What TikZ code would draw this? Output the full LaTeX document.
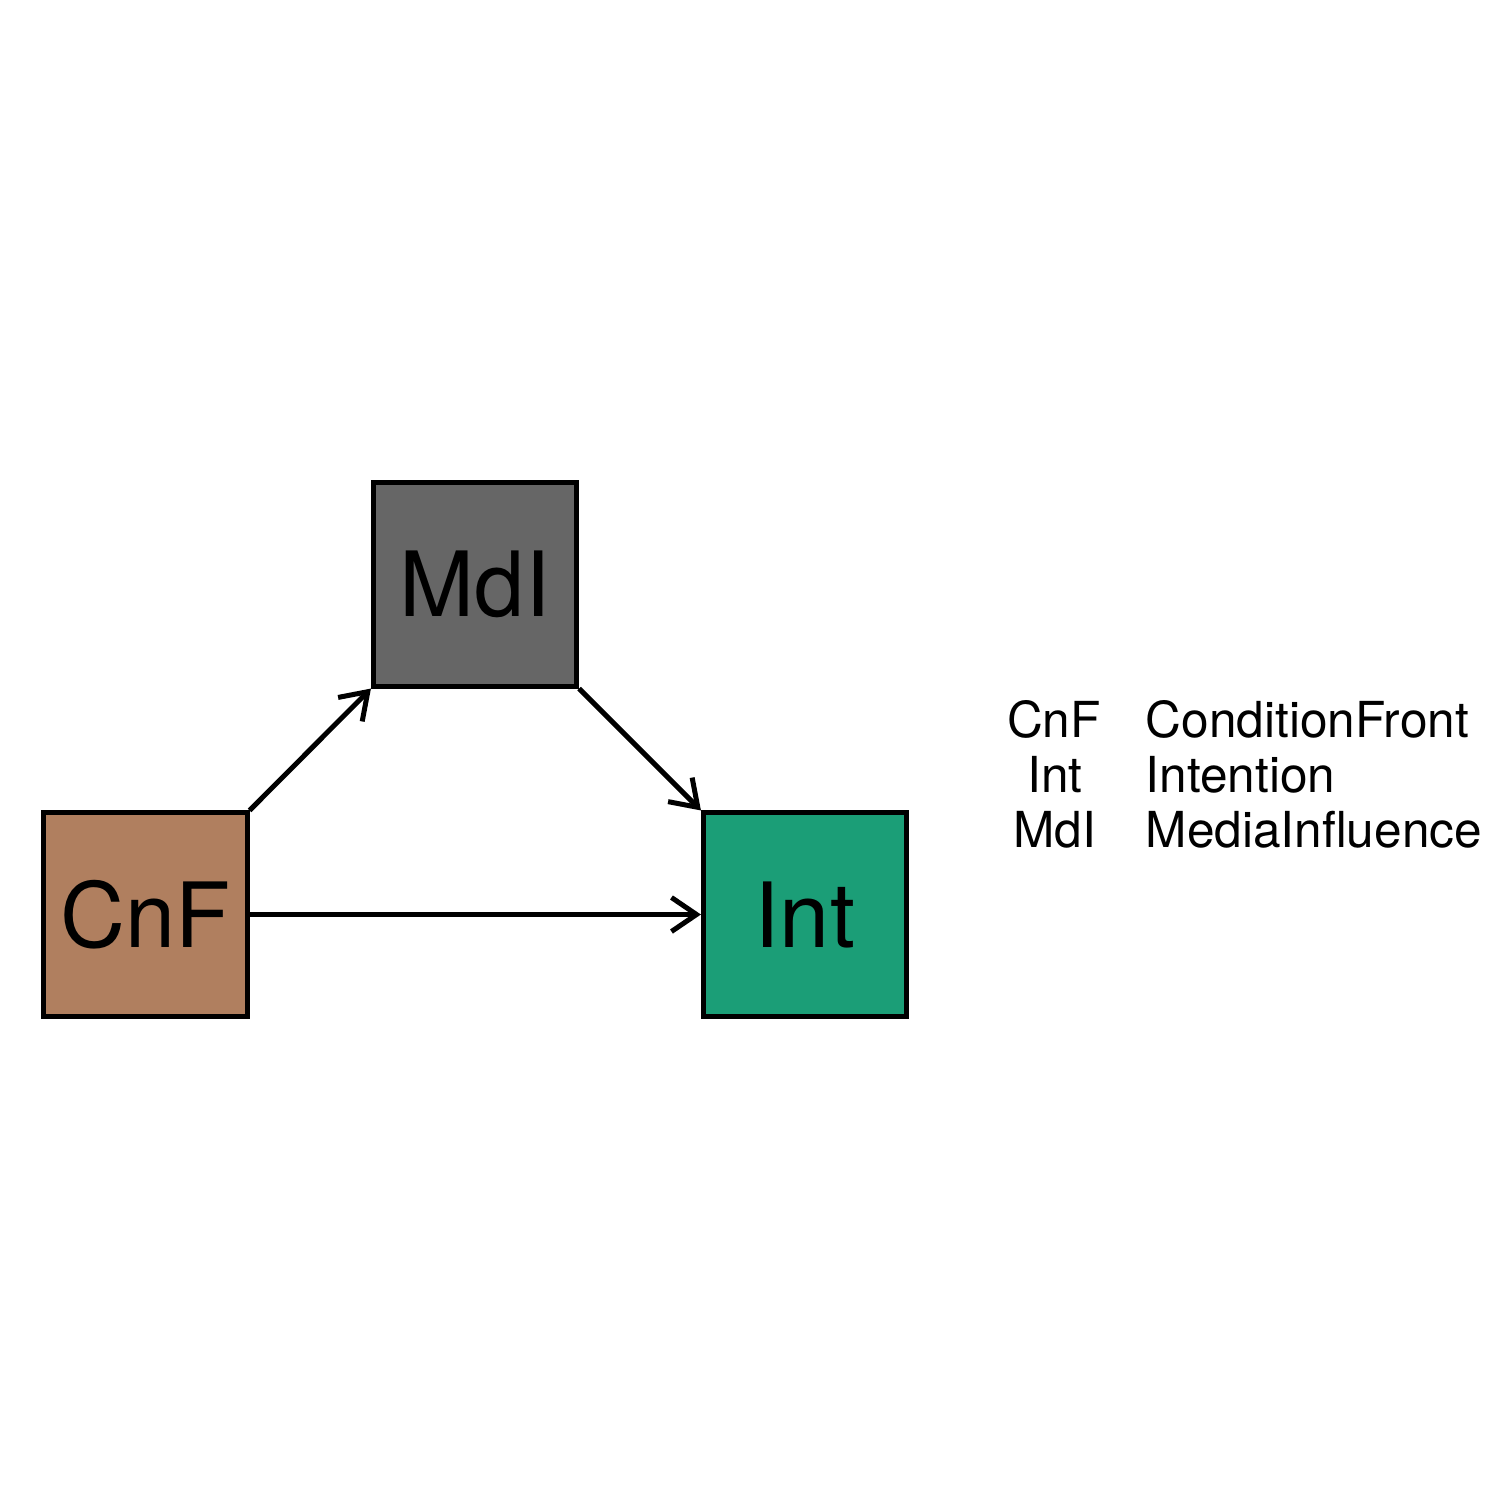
\documentclass[tikz,border=0pt]{standalone}
\usepackage{fontspec}
\setmainfont{TeX Gyre Heros}
\usetikzlibrary{arrows.meta}
\definecolor{cnfcol}{HTML}{B07F5F}
\definecolor{intcol}{HTML}{1B9E77}
\definecolor{mdicol}{HTML}{666666}
\begin{document}
\begin{tikzpicture}[x=0.01cm,y=-0.01cm,
  varbox/.style={draw=black,line width=0.05cm,minimum width=2.03cm,minimum height=2.03cm,inner sep=0pt,font=\fontsize{25.6pt}{30pt}\selectfont},
  conn/.style={line width=0.05cm,-{Straight Barb[length=0.25cm,width=0.34cm,line width=0.05cm]}},
  legend/.style={font=\fontsize{14.1pt}{16pt}\selectfont,inner sep=0pt}]
\useasboundingbox (0,0) rectangle (1500,1500);
\fill[white] (0,0) rectangle (1500,1500);
\node[varbox,fill=cnfcol] (cnf) at (145.5,914.5) {CnF};
\node[varbox,fill=mdicol] (mdi) at (475,584.5) {MdI};
\node[varbox,fill=intcol] (int) at (805,914.5) {Int};
\draw[conn] (cnf.north east) -- (mdi.south west);
\draw[conn] (mdi.south east) -- (int.north west);
\draw[conn] (cnf.east) -- (int.west);
\node[legend,anchor=base] (l1a) at (1054,737) {CnF};
\node[legend,anchor=base] (l2a) at (1055,792) {Int};
\node[legend,anchor=base] (l3a) at (1055,847) {MdI};
\node[legend,anchor=base west] (l1b) at (1145,737) {ConditionFront};
\node[legend,anchor=base west] (l2b) at (1145,792) {Intention};
\node[legend,anchor=base west] (l3b) at (1145,847) {MediaInfluence};
\end{tikzpicture}
\end{document}
